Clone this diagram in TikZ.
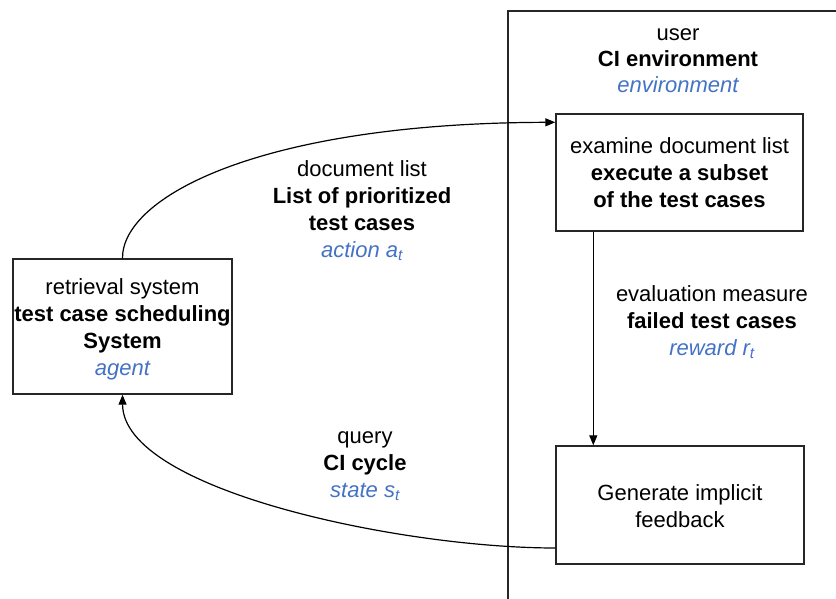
\documentclass[tikz,border=0pt]{standalone}
\usepackage{fontspec}
\setmainfont{Liberation Sans}
\usetikzlibrary{arrows.meta}
\definecolor{rlblue}{HTML}{4472C4}
\newcommand{\rlterm}[1]{{\color{rlblue}\itshape #1}}
\begin{document}
\begin{tikzpicture}[x=1pt,y=-1pt,
  every node/.style={font=\fontsize{22}{27}\selectfont, align=center, inner sep=0pt},
  box/.style={draw=black!85, line width=1.4pt},
  frame/.style={draw=black!85, line width=1.3pt},
  conn/.style={line width=1.2pt, -{Triangle[length=10pt,width=8pt]}}]
\useasboundingbox (0,0) rectangle (836,599);

% environment frame (open to the right and bottom)
\coordinate (envtop) at (508,11);
\draw[frame] (508,599) -- (envtop) -- (836,11);
\node (envtitle) at (678,60.5) {user\\[-1pt] \textbf{CI environment}\\[-1pt] \rlterm{environment}};

% agent
\node[box, minimum width=219pt, minimum height=135pt] (agent) at (122.5,326.5) {};
\node (agenttext) at ([yshift=-2.5pt]agent.center)
  {retrieval system\\ \textbf{test case scheduling}\\ \textbf{System}\\ \rlterm{agent}};

% environment steps
\node[box, minimum width=247pt, minimum height=117pt] (exam) at (679.5,172.5)
  {examine document list\\ \textbf{execute a subset}\\ \textbf{of the test cases}};
\node[box, minimum width=248pt, minimum height=118pt] (gen) at (680,505) {};
\node (gentext) at ([yshift=-1pt]gen.center) {Generate implicit\\ feedback};

% connectors
\draw[conn] (agent.north) .. controls (122,197) and (260,123) .. ([yshift=-9pt]exam.north west);
\draw[conn] ([xshift=38pt]exam.south west) -- ([xshift=38pt]gen.north west);
\draw[conn] ([yshift=-43pt]gen.west) .. controls (400,548) and (123,490) .. (agent.south);

% connector labels
\node (action) at (362,210.5) {document list\\ \textbf{List of prioritized}\\ \textbf{test cases}\\ \rlterm{action a\textsubscript{t}}};
\node (reward) at (712,322.5) {evaluation measure\\ \textbf{failed test cases}\\ \rlterm{reward r\textsubscript{t}}};
\node (state) at (365,466) {query\\ \textbf{CI cycle}\\ \rlterm{state s\textsubscript{t}}};
\end{tikzpicture}
\end{document}
